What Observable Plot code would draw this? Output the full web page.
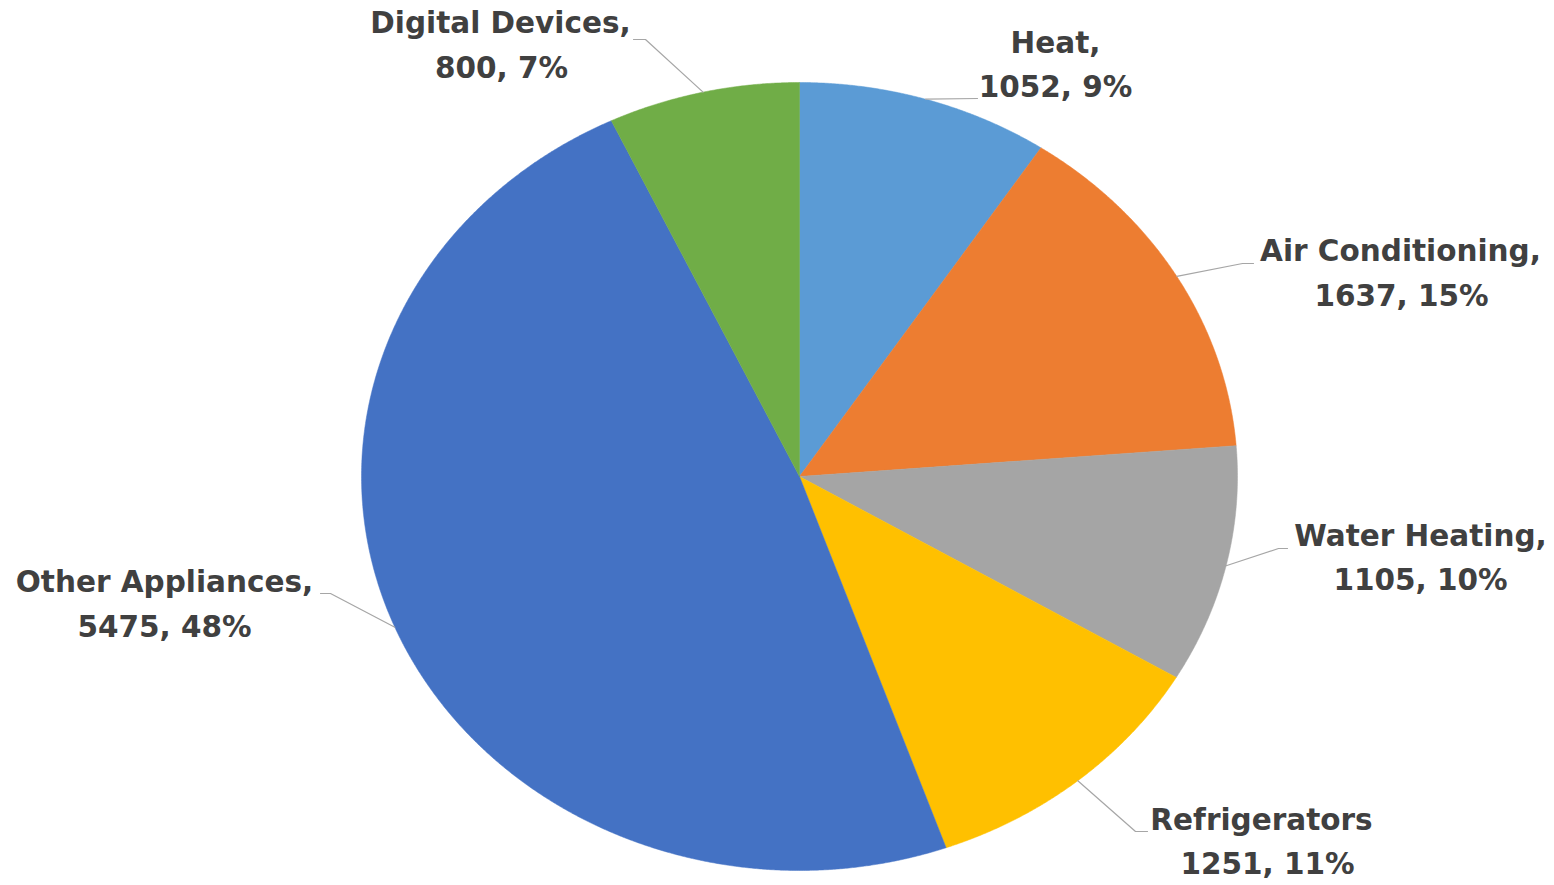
<!DOCTYPE html>
<html>
<head>
<meta charset="utf-8">
<script src="https://cdn.jsdelivr.net/npm/d3@7"></script>
<script src="https://cdn.jsdelivr.net/npm/@observablehq/plot@0.6"></script>
<style>
  html, body { margin: 0; padding: 0; background: #fff; overflow: hidden; }
  #chart svg { display: block; }
</style>
</head>
<body>
<div id="chart"></div>
<script>
// ---- data ----
const categories = ["Heat", "Air Conditioning", "Water Heating", "Refrigerators", "Other Appliances", "Digital Devices"];
const values = [1052, 1637, 1105, 1251, 5475, 800];
const percentLabels = ["9%", "15%", "10%", "11%", "48%", "7%"];
const nameLabels = ["Heat,", "Air Conditioning,", "Water Heating,", "Refrigerators", "Other Appliances,", "Digital Devices,"];
const colors = ["#5B9BD5", "#ED7D31", "#A5A5A5", "#FFC000", "#4472C4", "#70AD47"];

// ---- layout (pixel space, identity-like scales) ----
const W = 1554, H = 885;
const cx = 799, cy = 476, rx = 438, ry = 394;
// label line centers [line1x, line1y, line2x, line2y]
const labelPos = [
  [1055, 43, 1055, 87],
  [1400, 251, 1401, 296],
  [1420, 536, 1420, 580],
  [1261, 820, 1267, 864],
  [164, 582, 164, 627],
  [500, 23, 501, 68]
];
// leader elbow and end points [ex, ey, tx, ty]
const leaderPos = [
  [977, 98, 977, 98],
  [1242, 263, 1253, 263],
  [1278, 548, 1287, 548],
  [1135, 831, 1147, 831],
  [330, 593, 320, 593],
  [645, 39, 633, 39]
];

const total = d3.sum(values);
const pt = a => ({x: cx + rx * Math.sin(a), y: cy - ry * Math.cos(a)});

const slicePts = [];
const leaderPts = [];
const labelRows = [];
let acc = 0;
categories.forEach((name, i) => {
  const a0 = acc / total * 2 * Math.PI;
  acc += values[i];
  const a1 = acc / total * 2 * Math.PI;
  slicePts.push({name, x: cx, y: cy});
  const n = Math.max(2, Math.ceil((a1 - a0) / 0.004));
  for (let k = 0; k <= n; k++) {
    const p = pt(a0 + (a1 - a0) * k / n);
    slicePts.push({name, ...p});
  }
  slicePts.push({name, x: cx, y: cy});
  const m = pt((a0 + a1) / 2);
  const [ex, ey, tx, ty] = leaderPos[i];
  leaderPts.push({name, x: m.x, y: m.y}, {name, x: ex, y: ey}, {name, x: tx, y: ty});
  const [l1x, l1y, l2x, l2y] = labelPos[i];
  labelRows.push({x: l1x, y: l1y, text: nameLabels[i]});
  labelRows.push({x: l2x, y: l2y, text: `${values[i]}, ${percentLabels[i]}`});
});

const chart = Plot.plot({
  width: W,
  height: H,
  margin: 0,
  style: {background: "#fff"},
  x: {domain: [0, W], range: [0, W], axis: null},
  y: {domain: [0, H], range: [0, H], axis: null},
  color: {domain: categories, range: colors},
  marks: [
    Plot.line(slicePts, {x: "x", y: "y", z: "name", fill: "name", stroke: "name", strokeWidth: 0.5, curve: "linear"}),
    Plot.line(leaderPts, {x: "x", y: "y", z: "name", stroke: "#a6a6a6", strokeWidth: 1.2, curve: "linear"}),
    Plot.text(labelRows, {
      x: "x", y: "y", text: "text",
      fontSize: 29.5, fontWeight: "bold", fontFamily: "DejaVu Sans",
      fill: "#404040", textAnchor: "middle", lineAnchor: "middle"
    })
  ]
});
document.getElementById("chart").appendChild(chart);
</script>
</body>
</html>
